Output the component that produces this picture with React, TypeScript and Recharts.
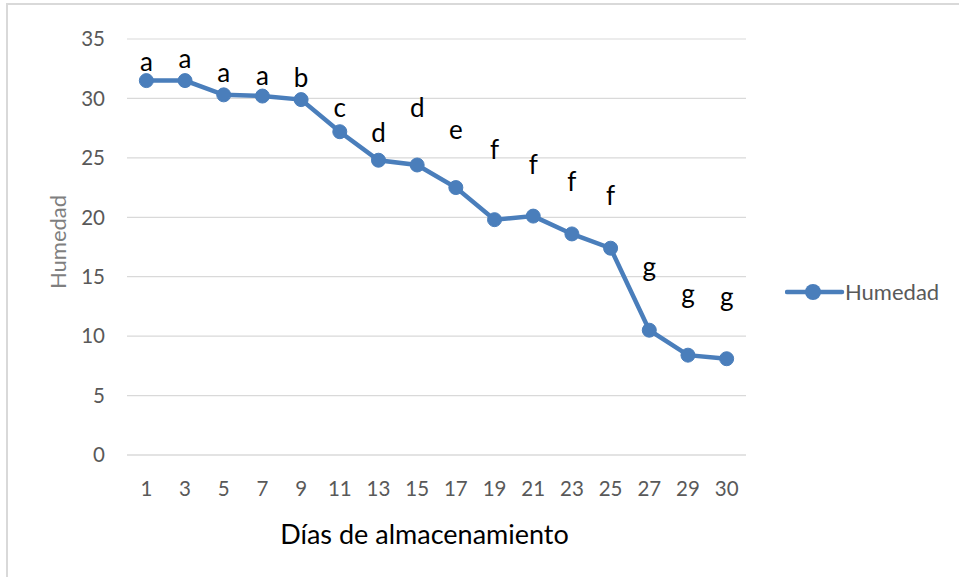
import React from 'react';
import { LineChart, Line, XAxis, YAxis, CartesianGrid, LabelList, Label } from 'recharts';

const days = ['1', '3', '5', '7', '9', '11', '13', '15', '17', '19', '21', '23', '25', '27', '29', '30'];
const humedad = [31.5, 31.5, 30.3, 30.2, 29.9, 27.2, 24.8, 24.4, 22.5, 19.8, 20.1, 18.6, 17.4, 10.5, 8.4, 8.1];
const letters = ['a', 'a', 'a', 'a', 'b', 'c', 'd', 'd', 'e', 'f', 'f', 'f', 'f', 'g', 'g', 'g'];
const letterBase = [32.3, 32.6, 31.4, 31.1, 31.0, 28.4, 26.3, 28.4, 26.6, 24.9, 23.6, 22.2, 21.0, 15.1, 12.8, 12.5];
const yTicks = [0, 5, 10, 15, 20, 25, 30, 35];

const data = days.map((d, i) => ({
  day: d,
  humedad: humedad[i],
  letter: letters[i],
  letterBase: letterBase[i],
}));

const BLUE = '#4a7ebb';
const FONT = 'Lato, "Open Sans", sans-serif';

const renderLetter = (props: any) => {
  const { x, y, value } = props;
  return (
    <text x={x} y={y} textAnchor="middle" fontSize={26} fill="#000" fontFamily={FONT}>
      {value}
    </text>
  );
};

export default function App() {
  return (
    <div style={{ position: 'absolute', left: 0, top: 0, width: 959, height: 577, overflow: 'hidden', background: '#fff' }}>
      <div
        style={{
          position: 'absolute',
          left: 6,
          top: 3,
          width: 1100,
          height: 800,
          borderLeft: '2.5px solid #d9d9d9',
          borderTop: '2.5px solid #d9d9d9',
          boxSizing: 'border-box',
        }}
      />
      <div style={{ position: 'absolute', left: 0, top: 0 }}>
        <LineChart
          width={959}
          height={577}
          data={data}
          margin={{ top: 39, right: 213, bottom: 0, left: 0 }}
          style={{ fontFamily: FONT }}
        >
          <CartesianGrid vertical={false} stroke="#d9d9d9" strokeWidth={1.2} />
          <XAxis
            dataKey="day"
            type="category"
            height={122}
            padding={{ left: 19.35, right: 19.35 }}
            axisLine={{ stroke: '#d9d9d9', strokeWidth: 1.2 }}
            tickLine={false}
            tickSize={24}
            tickMargin={2}
            interval={0}
            tick={{ fill: '#595959', fontSize: 20.5, fontFamily: FONT }}
          >
            <Label
              value="Días de almacenamiento"
              position="insideBottom"
              offset={33}
              dx={-12}
              style={{ fill: '#000', fontSize: 27, fontFamily: FONT }}
            />
          </XAxis>
          <YAxis
            width={127}
            domain={[0, 35]}
            ticks={yTicks}
            interval={0}
            axisLine={false}
            tickLine={false}
            tickSize={20}
            tickMargin={2}
            tick={{ fill: '#595959', fontSize: 20.5, fontFamily: FONT }}
          >
            <Label
              content={() => (
                <text
                  transform="translate(66,242) rotate(-90)"
                  textAnchor="middle"
                  fontSize={22}
                  fill="#7f7f7f"
                  fontFamily={FONT}
                >
                  Humedad
                </text>
              )}
            />
          </YAxis>
          <Line
            dataKey="humedad"
            stroke={BLUE}
            strokeWidth={4.5}
            dot={{ r: 7, fill: BLUE, stroke: BLUE, strokeWidth: 1 }}
            activeDot={false}
            isAnimationActive={false}
          />
          <Line
            dataKey="letterBase"
            stroke="none"
            dot={false}
            activeDot={false}
            legendType="none"
            isAnimationActive={false}
          >
            <LabelList dataKey="letter" content={renderLetter} />
          </Line>
        </LineChart>
      </div>
      <div style={{ position: 'absolute', left: 785, top: 279 }}>
        <svg width={174} height={30} style={{ display: 'block' }}>
          <line x1={2} y1={13} x2={57} y2={13} stroke={BLUE} strokeWidth={4.5} strokeLinecap="round" />
          <circle cx={28} cy={13} r={8} fill={BLUE} />
          <text x={60} y={21} fontSize={22} fill="#595959" fontFamily={FONT}>
            Humedad
          </text>
        </svg>
      </div>
    </div>
  );
}
